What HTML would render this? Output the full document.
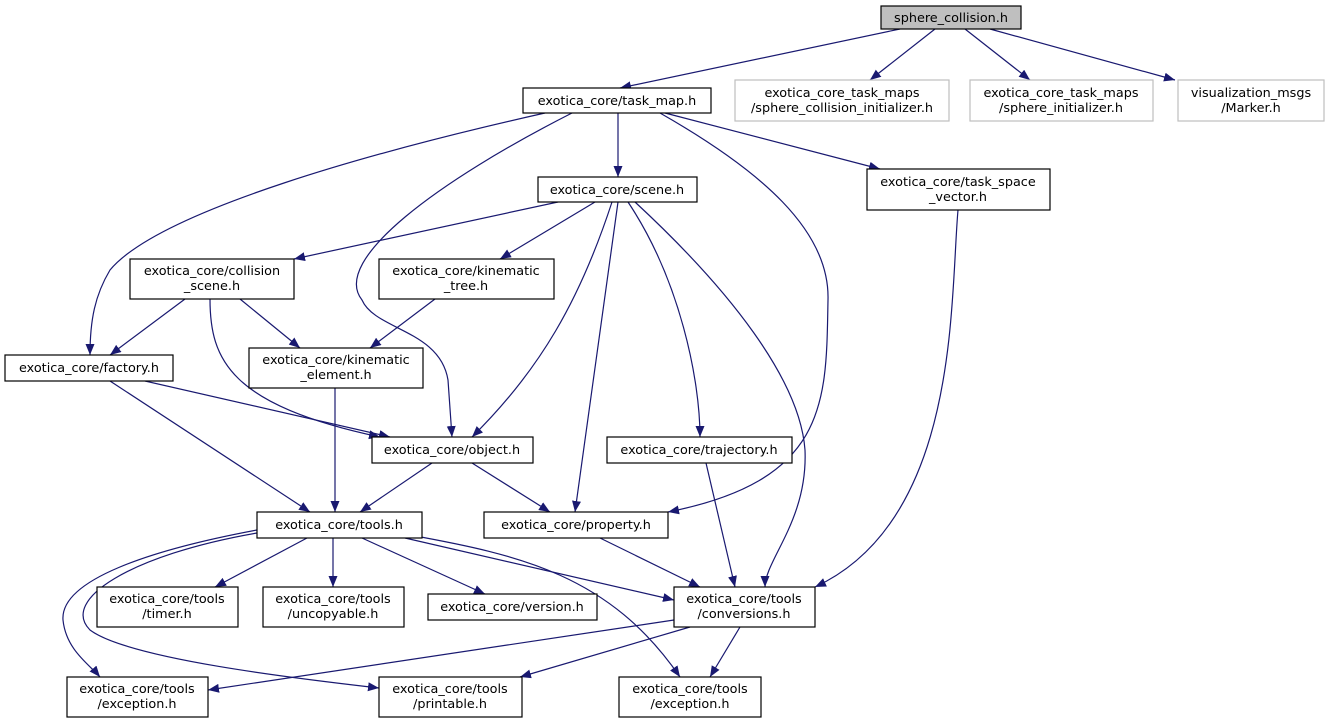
<!DOCTYPE html>
<html><head><meta charset="utf-8"><style>
html,body{margin:0;padding:0;background:#fff;}
svg{display:block;}
text{font-family:"DejaVu Sans","Liberation Sans",sans-serif;font-size:12.8px;fill:#000;}
</style></head><body>
<svg width="1330" height="723" viewBox="0 0 1330 723" xmlns="http://www.w3.org/2000/svg">
<defs>
<marker id="a" markerUnits="userSpaceOnUse" markerWidth="12" markerHeight="10" refX="11" refY="4.5" orient="auto">
<path d="M0,0 L11,4.5 L0,9 Z" fill="#191970"/>
</marker>
</defs>
<g fill="none" stroke="#191970" stroke-width="1.2" marker-end="url(#a)">
<path d="M900,29 L620,88"/>
<path d="M935,29 L870,80"/>
<path d="M965,29 L1030,80"/>
<path d="M990,29 L1175,80"/>
<path d="M545,113 C380,150 160,210 110,270 C95,295 90,320 90,355"/>
<path d="M572,113 C440,180 330,260 362,300 C375,330 440,330 448,380 L452,437"/>
<path d="M618,113 L618,177"/>
<path d="M660,113 C760,170 830,230 828,300 C826,400 830,480 668,512"/>
<path d="M665,113 L880,169"/>
<path d="M558,202 L294,259"/>
<path d="M595,202 L500,259"/>
<path d="M612,202 C580,300 540,370 472,437"/>
<path d="M618,202 L575,512"/>
<path d="M628,202 C680,280 700,380 700,437"/>
<path d="M635,202 C730,290 800,380 805,450 C808,520 765,560 765,587"/>
<path d="M185,299 L110,355"/>
<path d="M240,299 L300,348"/>
<path d="M210,299 C210,360 230,405 380,437"/>
<path d="M435,299 L370,348"/>
<path d="M145,381 L390,437"/>
<path d="M110,381 L310,512"/>
<path d="M335,388 L335,512"/>
<path d="M432,463 L360,512"/>
<path d="M472,463 L550,512"/>
<path d="M706,463 L735,587"/>
<path d="M958,210 C950,300 960,520 815,587"/>
<path d="M600,538 L700,587"/>
<path d="M307,538 L215,587"/>
<path d="M333,538 L333,587"/>
<path d="M362,538 L485,594"/>
<path d="M405,538 L674,600"/>
<path d="M410,535 C520,555 610,575 680,677"/>
<path d="M257,530 C150,550 60,580 63,620 C66,650 90,665 100,677"/>
<path d="M257,533 C130,555 60,600 90,630 C130,660 310,680 379,688"/>
<path d="M674,620 L208,690"/>
<path d="M690,627 L520,677"/>
<path d="M740,627 L710,677"/>
</g>
<g stroke-width="1.2">
<rect x="881" y="6" width="140" height="23" fill="#bfbfbf" stroke="#000"/>
<rect x="523" y="88" width="188" height="25" fill="#fff" stroke="#000"/>
<rect x="735" y="80" width="214" height="41" fill="#fff" stroke="#bfbfbf"/>
<rect x="970" y="80" width="183" height="41" fill="#fff" stroke="#bfbfbf"/>
<rect x="1178" y="80" width="146" height="41" fill="#fff" stroke="#bfbfbf"/>
<rect x="538" y="177" width="159" height="25" fill="#fff" stroke="#000"/>
<rect x="867" y="169" width="183" height="41" fill="#fff" stroke="#000"/>
<rect x="130" y="259" width="164" height="40" fill="#fff" stroke="#000"/>
<rect x="379" y="259" width="175" height="40" fill="#fff" stroke="#000"/>
<rect x="5" y="355" width="168" height="26" fill="#fff" stroke="#000"/>
<rect x="249" y="348" width="174" height="40" fill="#fff" stroke="#000"/>
<rect x="372" y="437" width="161" height="26" fill="#fff" stroke="#000"/>
<rect x="607" y="437" width="185" height="26" fill="#fff" stroke="#000"/>
<rect x="257" y="512" width="165" height="26" fill="#fff" stroke="#000"/>
<rect x="484" y="512" width="184" height="26" fill="#fff" stroke="#000"/>
<rect x="97" y="587" width="141" height="40" fill="#fff" stroke="#000"/>
<rect x="263" y="587" width="141" height="40" fill="#fff" stroke="#000"/>
<rect x="428" y="594" width="169" height="26" fill="#fff" stroke="#000"/>
<rect x="674" y="587" width="141" height="40" fill="#fff" stroke="#000"/>
<rect x="67" y="677" width="141" height="40" fill="#fff" stroke="#000"/>
<rect x="379" y="677" width="143" height="40" fill="#fff" stroke="#000"/>
<rect x="619" y="677" width="142" height="40" fill="#fff" stroke="#000"/>
</g>
<g text-anchor="middle">
<text x="951" y="22">sphere_collision.h</text>
<text x="617" y="105">exotica_core/task_map.h</text>
<text x="842" y="97">exotica_core_task_maps</text>
<text x="842" y="112">/sphere_collision_initializer.h</text>
<text x="1061" y="97">exotica_core_task_maps</text>
<text x="1061" y="112">/sphere_initializer.h</text>
<text x="1251" y="97">visualization_msgs</text>
<text x="1251" y="112">/Marker.h</text>
<text x="617" y="194">exotica_core/scene.h</text>
<text x="958" y="186">exotica_core/task_space</text>
<text x="958" y="201">_vector.h</text>
<text x="212" y="275">exotica_core/collision</text>
<text x="212" y="290">_scene.h</text>
<text x="466" y="275">exotica_core/kinematic</text>
<text x="466" y="290">_tree.h</text>
<text x="89" y="372">exotica_core/factory.h</text>
<text x="336" y="364">exotica_core/kinematic</text>
<text x="336" y="379">_element.h</text>
<text x="452" y="454">exotica_core/object.h</text>
<text x="699" y="454">exotica_core/trajectory.h</text>
<text x="339" y="529">exotica_core/tools.h</text>
<text x="576" y="529">exotica_core/property.h</text>
<text x="167" y="603">exotica_core/tools</text>
<text x="167" y="618">/timer.h</text>
<text x="333" y="603">exotica_core/tools</text>
<text x="333" y="618">/uncopyable.h</text>
<text x="512" y="611">exotica_core/version.h</text>
<text x="744" y="603">exotica_core/tools</text>
<text x="744" y="618">/conversions.h</text>
<text x="137" y="693">exotica_core/tools</text>
<text x="137" y="708">/exception.h</text>
<text x="450" y="693">exotica_core/tools</text>
<text x="450" y="708">/printable.h</text>
<text x="690" y="693">exotica_core/tools</text>
<text x="690" y="708">/exception.h</text>
</g>
</svg>
</body></html>
